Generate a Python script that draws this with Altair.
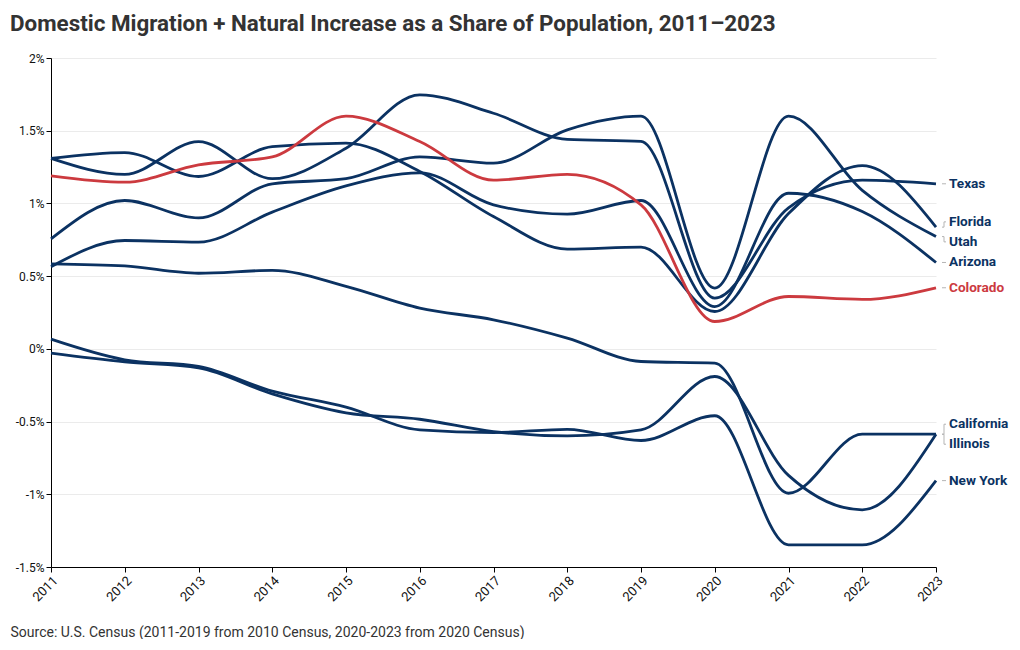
import altair as alt
import pandas as pd

years = list(range(2011, 2024))
states = ["Texas", "Florida", "Utah", "Arizona", "Colorado", "California", "Illinois", "New York"]
texas = [1.31, 1.20, 1.425, 1.17, 1.38, 1.747, 1.62, 1.44, 1.426, 0.349, 0.97, 1.16, 1.135]
florida = [1.31, 1.35, 1.185, 1.39, 1.415, 1.22, 0.91, 0.686, 0.70, 0.257, 0.93, 1.26, 0.837]
utah = [0.756, 1.02, 0.90, 1.135, 1.17, 1.32, 1.277, 1.506, 1.60, 0.417, 1.60, 1.09, 0.772]
arizona = [0.565, 0.745, 0.734, 0.94, 1.12, 1.21, 0.99, 0.926, 1.02, 0.291, 1.07, 0.944, 0.594]
colorado = [1.19, 1.146, 1.265, 1.32, 1.60, 1.426, 1.16, 1.20, 0.99, 0.188, 0.36, 0.34, 0.42]
california = [0.585, 0.57, 0.52, 0.54, 0.43, 0.28, 0.20, 0.074, -0.087, -0.098, -0.993, -0.587, -0.587]
illinois = [-0.03, -0.09, -0.13, -0.31, -0.44, -0.484, -0.569, -0.598, -0.557, -0.19, -0.87, -1.107, -0.587]
new_york = [0.067, -0.075, -0.12, -0.29, -0.40, -0.557, -0.575, -0.553, -0.63, -0.46, -1.348, -1.348, -0.906]
y_ticks = [-1.5, -1, -0.5, 0, 0.5, 1, 1.5, 2]

title_text = "Domestic Migration + Natural Increase as a Share of Population, 2011\u20132023"
source_text = "Source: U.S. Census (2011-2019 from 2010 Census, 2020-2023 from 2020 Census)"

NAVY = "#0b3262"
RED = "#cc3a3f"
FONT = "Roboto"

series = [texas, florida, utah, arizona, colorado, california, illinois, new_york]
rows = []
for st, vals in zip(states, series):
    for yr, v in zip(years, vals):
        rows.append({"state": st, "year": yr, "value": v,
                     "grp": "Colorado" if st == "Colorado" else "other"})
df = pd.DataFrame(rows)

W, H = 885, 509
y_min, y_max = -1.5, 2.0
min_gap = 20 * (y_max - y_min) / H  # label spacing in data units

# simple label dodge (ties keep the listed order)
ends = sorted([(vals[-1], i, st) for i, (st, vals) in enumerate(zip(states, series))],
              key=lambda e: (-e[0], e[1]))
clusters = [[e] for e in ends]
changed = True
pos = None
while changed:
    changed = False
    pos = []
    for c in clusters:
        center = sum(e[0] for e in c) / len(c)
        n = len(c)
        top = center + (n - 1) * min_gap / 2
        pos.append([top - i * min_gap for i in range(n)])
    for i in range(len(clusters) - 1):
        if pos[i][-1] - pos[i + 1][0] < min_gap - 1e-9:
            clusters[i] = clusters[i] + clusters[i + 1]
            del clusters[i + 1]
            changed = True
            break
lab_rows = []
for c, p in zip(clusters, pos):
    for (v, _, st), ly in zip(c, p):
        lab_rows.append({"state": st, "year": years[-1], "value": v, "label_y": ly,
                         "grp": "Colorado" if st == "Colorado" else "other"})
labels = pd.DataFrame(lab_rows)

color = alt.Color("grp:N", scale=alt.Scale(domain=["other", "Colorado"], range=[NAVY, RED]), legend=None)

x_enc = alt.X("year:Q", scale=alt.Scale(domain=[years[0], years[-1]], nice=False, zero=False),
              axis=alt.Axis(values=years, format="d", labelAngle=-45, grid=False, labelFontSize=13,
                            title=source_text, titleAnchor="start", titleAlign="left",
                            titleX=-41, titleY=65, titleBaseline="middle",
                            titleFontWeight="normal", titleFontSize=14, titleColor="#333333",
                            titleFont=FONT))
y_enc = alt.Y("value:Q", scale=alt.Scale(domain=[y_min, y_max], nice=False),
              axis=alt.Axis(values=y_ticks, labelExpr="datum.value + '%'", title=None,
                            grid=True, gridColor="#ebebeb"))

base = alt.Chart(df)
lines_other = base.transform_filter("datum.state != 'Colorado'").mark_line(
    interpolate="monotone", strokeWidth=2.8).encode(x=x_enc, y=y_enc, color=color, detail="state:N")
lines_co = base.transform_filter("datum.state == 'Colorado'").mark_line(
    interpolate="monotone", strokeWidth=2.8).encode(x="year:Q", y="value:Q", color=color, detail="state:N")

lab = alt.Chart(labels)
conn_a = lab.mark_rule(color="#b5b5b5", strokeWidth=1, xOffset=6, x2Offset=8).encode(
    x="year:Q", x2="year:Q", y="value:Q")
conn_b = lab.mark_rule(color="#b5b5b5", strokeWidth=1, xOffset=8, x2Offset=8).encode(
    x="year:Q", y="value:Q", y2="label_y:Q")
conn_c = lab.mark_rule(color="#b5b5b5", strokeWidth=1, xOffset=8, x2Offset=10).encode(
    x="year:Q", x2="year:Q", y="label_y:Q")
texts = lab.mark_text(align="left", baseline="middle", dx=13, font=FONT, fontSize=13.6,
                      fontWeight="bold").encode(x="year:Q", y="label_y:Q", text="state:N", color=color)

chart = alt.layer(lines_other, lines_co, conn_a, conn_b, conn_c, texts).properties(
    width=W, height=H,
    title=alt.TitleParams(title_text, anchor="start", frame="group", dx=-41, offset=17,
                          font=FONT, fontSize=22.4, fontWeight="bold", color="#333333"),
    autosize=alt.AutoSizeParams(type="none"),
    padding={"left": 43, "top": 50, "right": 76, "bottom": 72},
).configure_view(stroke=None).configure_axis(
    labelFont=FONT, labelFontSize=12, labelColor="#111111", domainColor="#000000",
    tickColor="#000000", tickSize=5, domainWidth=1
)

chart.save("out.html", embed_options={"renderer": "svg", "actions": False})
